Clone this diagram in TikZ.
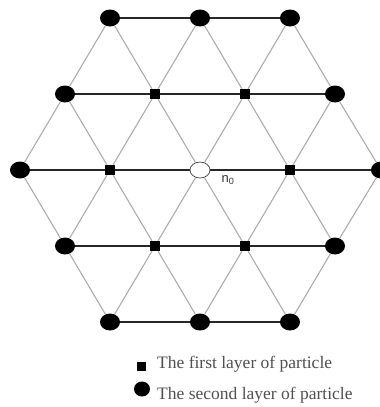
\documentclass[tikz,border=0pt]{standalone}
\usepackage{fontspec}
\setmainfont{Liberation Serif}
\newfontfamily\labelfont{Liberation Sans}
\usetikzlibrary{shapes.geometric}
\definecolor{latticegray}{RGB}{172,172,172}
\definecolor{keygray}{RGB}{80,80,80}

\begin{document}
\begin{tikzpicture}[x=1pt, y=-1pt,
  secondlayer/.style={ellipse, fill=black, minimum width=20pt, minimum height=17pt, inner sep=0pt},
  firstlayer/.style={rectangle, fill=black, minimum size=10pt, inner sep=0pt},
  centre/.style={ellipse, draw=black!75, fill=white, line width=0.7pt,
    minimum width=20pt, minimum height=16pt, inner sep=0pt},
  bond/.style={draw=latticegray, line width=1.1pt},
  rowbond/.style={draw=black!85, line width=1.7pt},
  keytext/.style={text=keygray, font=\fontsize{17.5}{19}\selectfont, inner sep=0pt, anchor=base west},
]
  \useasboundingbox (0,0) rectangle (380,407);

  % lattice sites, top row to bottom row
  \node[secondlayer] (t1) at (110,18) {};
  \node[secondlayer] (t2) at (200,18) {};
  \node[secondlayer] (t3) at (290,18) {};

  \node[secondlayer] (u1) at (65,94) {};
  \node[firstlayer]  (u2) at (155,94) {};
  \node[firstlayer]  (u3) at (245,94) {};
  \node[secondlayer] (u4) at (335,94) {};

  \node[secondlayer] (m1) at (20,170) {};
  \node[firstlayer]  (m2) at (110,170) {};
  \node[centre]      (m3) at (200,170) {};
  \node[firstlayer]  (m4) at (290,170) {};
  \node[secondlayer] (m5) at (381,170) {};

  \node[secondlayer] (l1) at (65,246) {};
  \node[firstlayer]  (l2) at (155,246) {};
  \node[firstlayer]  (l3) at (245,246) {};
  \node[secondlayer] (l4) at (335,246) {};

  \node[secondlayer] (b1) at (110,322) {};
  \node[secondlayer] (b2) at (200,322) {};
  \node[secondlayer] (b3) at (290,322) {};

  % diagonal bonds
  \draw[bond] (m1) -- (l1) -- (b1);
  \draw[bond] (u1) -- (m2) -- (l2) -- (b2);
  \draw[bond] (t1) -- (u2) -- (m3) -- (l3) -- (b3);
  \draw[bond] (t2) -- (u3) -- (m4) -- (l4);
  \draw[bond] (t3) -- (u4) -- (m5);
  \draw[bond] (m5) -- (l4) -- (b3);
  \draw[bond] (u4) -- (m4) -- (l3) -- (b2);
  \draw[bond] (t3) -- (u3) -- (m3) -- (l2) -- (b1);
  \draw[bond] (t2) -- (u2) -- (m2) -- (l1);
  \draw[bond] (t1) -- (u1) -- (m1);

  % horizontal bonds
  \draw[rowbond] (t1) -- (t2) -- (t3);
  \draw[rowbond] (u1) -- (u2) -- (u3) -- (u4);
  \draw[rowbond] (m1) -- (m2) -- (m3) -- (m4) -- (m5);
  \draw[rowbond] (l1) -- (l2) -- (l3) -- (l4);
  \draw[rowbond] (b1) -- (b2) -- (b3);

  \node[text=black!80, font=\labelfont\fontsize{13}{14}\selectfont, inner sep=0pt] (n0) at (228,180) {n\textsubscript{0}};

  % key
  \node[firstlayer, minimum size=9pt] (keysq) at (141,366) {};
  \node[keytext] (keyfirst) at (157,368) {The first layer of particle};
  \node[secondlayer, minimum width=16pt, minimum height=15pt] (keydot) at (142,389) {};
  \node[keytext] (keysecond) at (157,399) {The second layer of particle};
\end{tikzpicture}
\end{document}
